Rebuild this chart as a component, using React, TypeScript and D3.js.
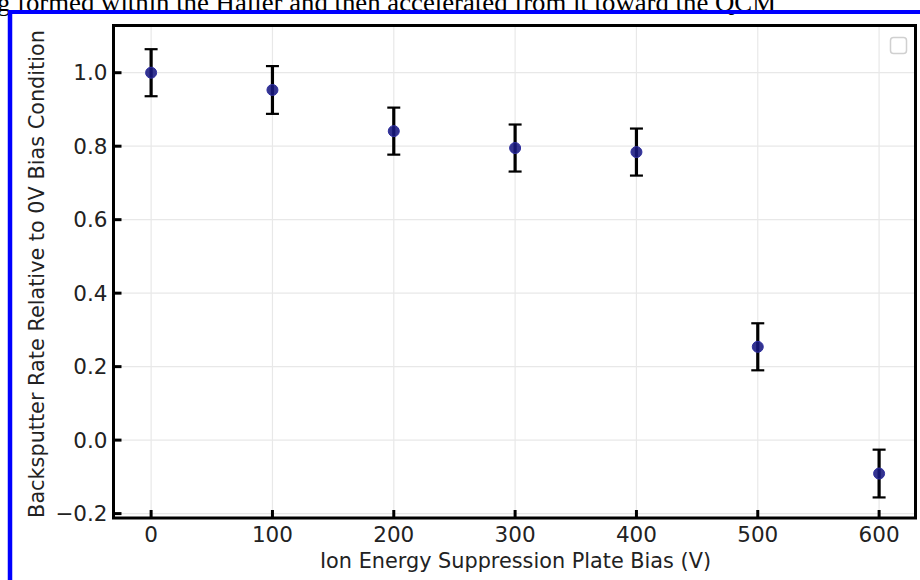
import React from "react";
import * as d3 from "d3";

const biasVolts = [0, 100, 200, 300, 400, 500, 600];
const relRate = [1.0, 0.953, 0.841, 0.795, 0.784, 0.254, -0.091];
const relErr = [0.064, 0.065, 0.064, 0.064, 0.064, 0.064, 0.065];
const xTicks = [0, 100, 200, 300, 400, 500, 600];
const yTicks = [-0.2, 0.0, 0.2, 0.4, 0.6, 0.8, 1.0];
const topCaption = "g formed within the Haller and then accelerated from it toward the QCM";
const xTitle = "Ion Energy Suppression Plate Bias (V)";
const yTitle = "Backsputter Rate Relative to 0V Bias Condition";

const W = 920;
const H = 580;
const L = 113.5, R = 915.5, T = 25.5, B = 518;

export default function App() {
  const x = d3.scaleLinear().domain([-31, 630]).range([L, R]);
  const y = d3.scaleLinear().domain([-0.212, 1.1285]).range([B, T]);
  const font = "'DejaVu Sans', sans-serif";
  const fmt = (v: number) => (v < 0 ? "\u2212" : "") + Math.abs(v).toFixed(1);
  return (
    <svg
      width={W}
      height={H}
      style={{ position: "fixed", left: 0, top: 0, background: "#fff" }}
    >
      <rect x={0} y={0} width={W} height={H} fill="#fff" />
      <text
        x={-3}
        y={11}
        fontFamily="'Liberation Serif', 'Times New Roman', serif"
        fontSize={25}
        textLength={779}
        lengthAdjust="spacingAndGlyphs"
        fill="#000"
      >
        {topCaption}
      </text>
      {/* grid */}
      {xTicks.map((t) => (
        <line key={"gx" + t} x1={x(t)} x2={x(t)} y1={T} y2={B} stroke="#e8e8e8" strokeWidth={1.2} />
      ))}
      {yTicks.map((t) => (
        <line key={"gy" + t} x1={L} x2={R} y1={y(t)} y2={y(t)} stroke="#e8e8e8" strokeWidth={1.2} />
      ))}
      {/* ticks inward */}
      {xTicks.map((t) => (
        <g key={"tx" + t}>
          <line x1={x(t)} x2={x(t)} y1={B} y2={B - 8} stroke="#000" strokeWidth={3} />
          <text x={x(t)} y={542} textAnchor="middle" fontFamily={font} fontSize={21.5} fill="#222">
            {t}
          </text>
        </g>
      ))}
      {yTicks.map((t) => (
        <g key={"ty" + t}>
          <line x1={L} x2={L + 8} y1={y(t)} y2={y(t)} stroke="#000" strokeWidth={3} />
          <text x={107.5} y={y(t)} dy="0.36em" textAnchor="end" fontFamily={font} fontSize={21.5} fill="#222">
            {fmt(t)}
          </text>
        </g>
      ))}
      {/* error bars and points */}
      {biasVolts.map((v, i) => {
        const cx = x(v);
        const y0 = y(relRate[i] - relErr[i]);
        const y1 = y(relRate[i] + relErr[i]);
        return (
          <g key={"pt" + v}>
            <line x1={cx} x2={cx} y1={y0} y2={y1} stroke="#000" strokeWidth={3.2} />
            <line x1={cx - 6.5} x2={cx + 6.5} y1={y0} y2={y0} stroke="#000" strokeWidth={2.2} />
            <line x1={cx - 6.5} x2={cx + 6.5} y1={y1} y2={y1} stroke="#000" strokeWidth={2.2} />
            <circle cx={cx} cy={y(relRate[i])} r={5.5} fill="#181880" fillOpacity={0.88} stroke="#3030a0" strokeWidth={1} />
          </g>
        );
      })}
      {/* empty legend */}
      <rect x={890.5} y={37.5} width={16} height={16} rx={3} fill="#fff" stroke="#d0d0d0" strokeWidth={1.5} />
      {/* spines */}
      <rect x={L} y={T} width={R - L} height={B - T} fill="none" stroke="#000" strokeWidth={3} />
      <text x={(L + R) / 2 + 1} y={568} textAnchor="middle" fontFamily={font} fontSize={20.8} fill="#222">
        {xTitle}
      </text>
      <text
        transform={`translate(44,274) rotate(-90)`}
        textAnchor="middle"
        fontFamily={font}
        fontSize={20.8}
        fill="#222"
      >
        {yTitle}
      </text>
      {/* blue frame */}
      <line x1={8} x2={W} y1={12} y2={12} stroke="#0000ff" strokeWidth={4} />
      <line x1={10} x2={10} y1={10} y2={H} stroke="#0000ff" strokeWidth={4.5} />
    </svg>
  );
}
